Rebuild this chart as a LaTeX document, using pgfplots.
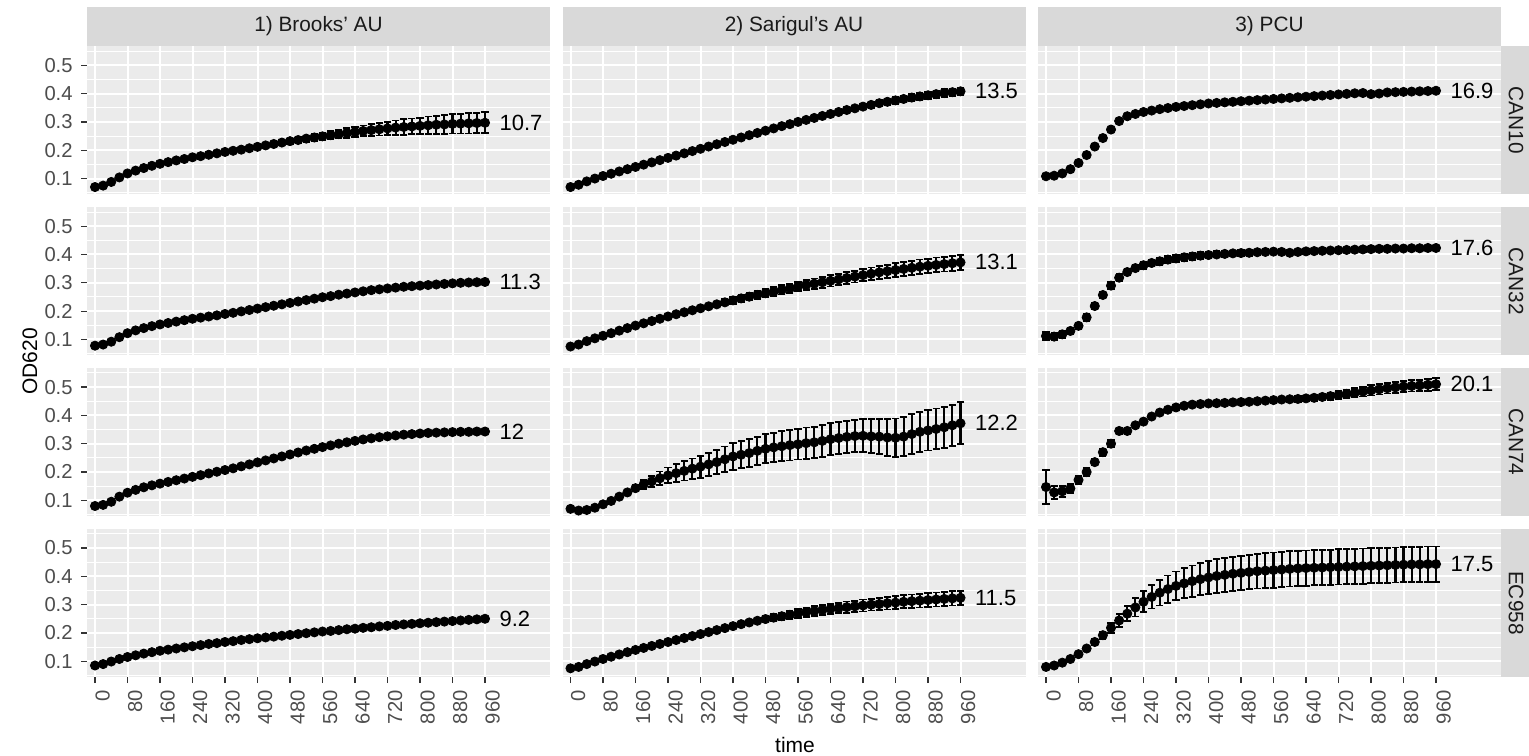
\documentclass[border=0pt]{standalone}
\usepackage{pgfplots}
\pgfplotsset{compat=1.18}
\usepackage{pgfplotstable}
\usepackage{fontspec}
\setmainfont{Liberation Sans}
\definecolor{ggpanel}{HTML}{EBEBEB}
\definecolor{ggstrip}{HTML}{D9D9D9}
\definecolor{ggstriptext}{HTML}{1A1A1A}
\definecolor{ggtext}{HTML}{4D4D4D}
\definecolor{ggtick}{HTML}{333333}
\newcommand\ticksize{\fontsize{10.1}{12}\selectfont}
\newcommand\stripsize{\fontsize{10.4}{12.5}\selectfont}
\newcommand\bigsize{\fontsize{11}{13.2}\selectfont}
\newcommand\titlesize{\fontsize{10.5}{12.6}\selectfont}

% Brooks' AU / CAN10
\pgfplotstableread{
t y e
0 0.070 0.002
20 0.075 0.002
40 0.088 0.002
60 0.104 0.003
80 0.118 0.003
100 0.128 0.003
120 0.137 0.003
140 0.145 0.003
160 0.152 0.004
180 0.158 0.004
200 0.164 0.004
220 0.169 0.004
240 0.175 0.005
260 0.179 0.005
280 0.184 0.005
300 0.189 0.005
320 0.194 0.006
340 0.198 0.006
360 0.202 0.006
380 0.207 0.007
400 0.212 0.007
420 0.217 0.008
440 0.222 0.008
460 0.227 0.009
480 0.232 0.009
500 0.236 0.010
520 0.241 0.011
540 0.245 0.012
560 0.249 0.013
580 0.253 0.014
600 0.257 0.015
620 0.261 0.017
640 0.264 0.018
660 0.268 0.019
680 0.271 0.021
700 0.274 0.022
720 0.277 0.024
740 0.280 0.025
760 0.282 0.027
780 0.284 0.028
800 0.286 0.029
820 0.288 0.031
840 0.290 0.032
860 0.291 0.033
880 0.293 0.034
900 0.294 0.035
920 0.295 0.036
940 0.296 0.036
960 0.297 0.037
}\dAa
% Sarigul's AU / CAN10
\pgfplotstableread{
t y e
0 0.070 0.002
20 0.078 0.002
40 0.090 0.002
60 0.100 0.002
80 0.109 0.002
100 0.117 0.002
120 0.125 0.002
140 0.133 0.003
160 0.141 0.003
180 0.149 0.003
200 0.157 0.003
220 0.165 0.003
240 0.173 0.003
260 0.181 0.003
280 0.189 0.004
300 0.197 0.004
320 0.205 0.004
340 0.213 0.004
360 0.221 0.004
380 0.229 0.005
400 0.237 0.005
420 0.245 0.005
440 0.253 0.006
460 0.261 0.006
480 0.269 0.006
500 0.277 0.007
520 0.285 0.007
540 0.292 0.007
560 0.300 0.008
580 0.307 0.008
600 0.314 0.008
620 0.321 0.009
640 0.328 0.009
660 0.335 0.009
680 0.342 0.010
700 0.348 0.010
720 0.354 0.010
740 0.360 0.011
760 0.366 0.011
780 0.371 0.011
800 0.376 0.012
820 0.381 0.012
840 0.386 0.012
860 0.390 0.012
880 0.394 0.013
900 0.398 0.013
920 0.402 0.013
940 0.405 0.013
960 0.408 0.013
}\dAb
% PCU / CAN10
\pgfplotstableread{
t y e
0 0.108 0.004
20 0.110 0.004
40 0.118 0.004
60 0.133 0.004
80 0.155 0.004
100 0.183 0.004
120 0.213 0.004
140 0.243 0.004
160 0.273 0.004
180 0.303 0.004
200 0.320 0.004
220 0.328 0.004
240 0.335 0.004
260 0.340 0.004
280 0.345 0.004
300 0.349 0.004
320 0.353 0.004
340 0.356 0.004
360 0.359 0.004
380 0.362 0.004
400 0.365 0.004
420 0.367 0.004
440 0.369 0.004
460 0.371 0.004
480 0.373 0.004
500 0.375 0.004
520 0.377 0.004
540 0.379 0.004
560 0.381 0.004
580 0.383 0.004
600 0.385 0.004
620 0.387 0.004
640 0.389 0.004
660 0.391 0.004
680 0.393 0.004
700 0.395 0.004
720 0.397 0.004
740 0.399 0.004
760 0.401 0.004
780 0.402 0.004
800 0.398 0.006
820 0.400 0.005
840 0.404 0.004
860 0.405 0.004
880 0.406 0.004
900 0.407 0.004
920 0.408 0.004
940 0.409 0.004
960 0.410 0.004
}\dAc
% Brooks' AU / CAN32
\pgfplotstableread{
t y e
0 0.078 0.002
20 0.082 0.002
40 0.092 0.002
60 0.108 0.002
80 0.122 0.002
100 0.132 0.002
120 0.140 0.002
140 0.147 0.002
160 0.153 0.002
180 0.158 0.002
200 0.163 0.002
220 0.168 0.002
240 0.173 0.003
260 0.177 0.003
280 0.181 0.003
300 0.185 0.003
320 0.190 0.003
340 0.194 0.003
360 0.199 0.003
380 0.204 0.003
400 0.209 0.003
420 0.214 0.003
440 0.219 0.003
460 0.224 0.004
480 0.229 0.004
500 0.234 0.004
520 0.239 0.004
540 0.244 0.004
560 0.249 0.004
580 0.253 0.004
600 0.258 0.004
620 0.262 0.004
640 0.266 0.004
660 0.270 0.005
680 0.274 0.005
700 0.277 0.005
720 0.280 0.005
740 0.283 0.005
760 0.286 0.005
780 0.288 0.005
800 0.290 0.005
820 0.292 0.005
840 0.294 0.005
860 0.296 0.005
880 0.298 0.005
900 0.300 0.005
920 0.301 0.005
940 0.302 0.005
960 0.303 0.005
}\dBa
% Sarigul's AU / CAN32
\pgfplotstableread{
t y e
0 0.075 0.002
20 0.082 0.002
40 0.094 0.002
60 0.104 0.002
80 0.113 0.003
100 0.122 0.003
120 0.131 0.003
140 0.140 0.004
160 0.149 0.004
180 0.157 0.005
200 0.165 0.005
220 0.173 0.006
240 0.181 0.006
260 0.189 0.007
280 0.196 0.008
300 0.203 0.008
320 0.210 0.009
340 0.217 0.010
360 0.224 0.010
380 0.231 0.011
400 0.238 0.012
420 0.245 0.012
440 0.251 0.013
460 0.257 0.014
480 0.263 0.014
500 0.269 0.015
520 0.275 0.016
540 0.281 0.016
560 0.287 0.017
580 0.292 0.018
600 0.297 0.018
620 0.302 0.019
640 0.307 0.020
660 0.312 0.020
680 0.317 0.021
700 0.322 0.021
720 0.327 0.022
740 0.332 0.022
760 0.337 0.023
780 0.341 0.023
800 0.345 0.024
820 0.349 0.024
840 0.353 0.025
860 0.357 0.025
880 0.360 0.025
900 0.363 0.026
920 0.366 0.026
940 0.369 0.026
960 0.372 0.026
}\dBb
% PCU / CAN32
\pgfplotstableread{
t y e
0 0.112 0.015
20 0.110 0.012
40 0.118 0.012
60 0.130 0.012
80 0.148 0.012
100 0.178 0.012
120 0.218 0.012
140 0.257 0.012
160 0.290 0.012
180 0.318 0.012
200 0.338 0.012
220 0.352 0.012
240 0.362 0.012
260 0.370 0.012
280 0.376 0.012
300 0.382 0.012
320 0.386 0.012
340 0.390 0.012
360 0.393 0.012
380 0.396 0.012
400 0.398 0.012
420 0.400 0.011
440 0.402 0.011
460 0.404 0.010
480 0.405 0.010
500 0.406 0.010
520 0.408 0.009
540 0.409 0.009
560 0.410 0.009
580 0.409 0.009
600 0.406 0.009
620 0.409 0.008
640 0.411 0.008
660 0.412 0.008
680 0.413 0.008
700 0.414 0.008
720 0.415 0.008
740 0.416 0.008
760 0.417 0.008
780 0.418 0.008
800 0.419 0.008
820 0.420 0.008
840 0.420 0.008
860 0.421 0.008
880 0.421 0.008
900 0.422 0.008
920 0.422 0.008
940 0.423 0.008
960 0.423 0.008
}\dBc
% Brooks' AU / CAN74
\pgfplotstableread{
t y e
0 0.080 0.002
20 0.084 0.002
40 0.095 0.002
60 0.113 0.002
80 0.127 0.002
100 0.137 0.002
120 0.146 0.002
140 0.153 0.002
160 0.159 0.002
180 0.165 0.002
200 0.171 0.002
220 0.177 0.002
240 0.183 0.002
260 0.189 0.002
280 0.195 0.002
300 0.201 0.002
320 0.207 0.002
340 0.213 0.002
360 0.220 0.002
380 0.227 0.002
400 0.234 0.002
420 0.241 0.002
440 0.248 0.002
460 0.255 0.003
480 0.262 0.003
500 0.269 0.003
520 0.276 0.003
540 0.282 0.003
560 0.288 0.003
580 0.294 0.003
600 0.300 0.003
620 0.305 0.003
640 0.310 0.003
660 0.315 0.003
680 0.319 0.003
700 0.323 0.003
720 0.326 0.003
740 0.329 0.003
760 0.332 0.003
780 0.334 0.003
800 0.336 0.003
820 0.338 0.003
840 0.339 0.004
860 0.340 0.004
880 0.341 0.004
900 0.342 0.004
920 0.342 0.004
940 0.343 0.004
960 0.343 0.004
}\dCa
% Sarigul's AU / CAN74
\pgfplotstableread{
t y e
0 0.070 0.002
20 0.064 0.002
40 0.066 0.002
60 0.074 0.003
80 0.086 0.003
100 0.098 0.004
120 0.113 0.005
140 0.128 0.007
160 0.143 0.010
180 0.156 0.015
200 0.167 0.020
220 0.178 0.024
240 0.188 0.028
260 0.196 0.031
280 0.204 0.034
300 0.212 0.036
320 0.219 0.039
340 0.227 0.041
360 0.235 0.043
380 0.245 0.045
400 0.255 0.047
420 0.261 0.048
440 0.267 0.049
460 0.275 0.050
480 0.282 0.051
500 0.287 0.052
520 0.291 0.053
540 0.295 0.054
560 0.298 0.054
580 0.302 0.055
600 0.305 0.055
620 0.310 0.056
640 0.316 0.056
660 0.320 0.056
680 0.324 0.057
700 0.327 0.057
720 0.328 0.058
740 0.326 0.060
760 0.325 0.062
780 0.322 0.065
800 0.321 0.068
820 0.325 0.069
840 0.334 0.070
860 0.342 0.070
880 0.347 0.071
900 0.352 0.072
920 0.358 0.072
940 0.365 0.073
960 0.372 0.074
}\dCb
% PCU / CAN74
\pgfplotstableread{
t y e
0 0.147 0.060
20 0.128 0.022
40 0.132 0.020
60 0.142 0.016
80 0.172 0.015
100 0.200 0.013
120 0.235 0.012
140 0.270 0.012
160 0.300 0.012
180 0.345 0.012
200 0.345 0.010
220 0.365 0.010
240 0.378 0.009
260 0.396 0.008
280 0.410 0.008
300 0.420 0.008
320 0.428 0.008
340 0.434 0.008
360 0.438 0.008
380 0.440 0.008
400 0.442 0.008
420 0.443 0.008
440 0.444 0.008
460 0.446 0.008
480 0.447 0.008
500 0.448 0.008
520 0.450 0.008
540 0.452 0.008
560 0.454 0.009
580 0.456 0.009
600 0.457 0.009
620 0.458 0.010
640 0.460 0.010
660 0.462 0.011
680 0.465 0.012
700 0.468 0.013
720 0.472 0.014
740 0.476 0.015
760 0.480 0.016
780 0.484 0.017
800 0.488 0.018
820 0.492 0.018
840 0.496 0.019
860 0.499 0.019
880 0.502 0.020
900 0.504 0.020
920 0.506 0.020
940 0.508 0.021
960 0.510 0.021
}\dCc
% Brooks' AU / EC958
\pgfplotstableread{
t y e
0 0.085 0.002
20 0.090 0.002
40 0.099 0.002
60 0.108 0.002
80 0.115 0.002
100 0.121 0.002
120 0.127 0.002
140 0.132 0.002
160 0.137 0.002
180 0.141 0.002
200 0.145 0.002
220 0.149 0.002
240 0.153 0.002
260 0.157 0.002
280 0.161 0.002
300 0.164 0.002
320 0.168 0.002
340 0.171 0.002
360 0.175 0.002
380 0.178 0.002
400 0.181 0.002
420 0.184 0.002
440 0.187 0.002
460 0.190 0.002
480 0.193 0.002
500 0.196 0.002
520 0.199 0.002
540 0.202 0.002
560 0.205 0.002
580 0.207 0.002
600 0.210 0.002
620 0.213 0.002
640 0.215 0.002
660 0.218 0.002
680 0.220 0.003
700 0.223 0.003
720 0.225 0.003
740 0.228 0.003
760 0.230 0.003
780 0.232 0.003
800 0.234 0.003
820 0.236 0.003
840 0.238 0.003
860 0.240 0.003
880 0.242 0.003
900 0.244 0.003
920 0.246 0.003
940 0.248 0.003
960 0.250 0.003
}\dDa
% Sarigul's AU / EC958
\pgfplotstableread{
t y e
0 0.075 0.002
20 0.080 0.002
40 0.090 0.002
60 0.099 0.002
80 0.108 0.002
100 0.116 0.002
120 0.124 0.002
140 0.132 0.002
160 0.140 0.003
180 0.147 0.003
200 0.154 0.003
220 0.161 0.003
240 0.168 0.004
260 0.175 0.004
280 0.182 0.004
300 0.189 0.005
320 0.196 0.005
340 0.203 0.006
360 0.210 0.006
380 0.217 0.007
400 0.224 0.008
420 0.231 0.008
440 0.237 0.009
460 0.243 0.010
480 0.249 0.011
500 0.254 0.012
520 0.259 0.013
540 0.264 0.014
560 0.269 0.015
580 0.273 0.016
600 0.277 0.017
620 0.281 0.018
640 0.285 0.018
660 0.288 0.019
680 0.291 0.020
700 0.294 0.020
720 0.297 0.021
740 0.300 0.021
760 0.302 0.022
780 0.305 0.022
800 0.307 0.023
820 0.310 0.023
840 0.312 0.024
860 0.314 0.024
880 0.316 0.024
900 0.318 0.025
920 0.320 0.025
940 0.322 0.025
960 0.324 0.025
}\dDb
% PCU / EC958
\pgfplotstableread{
t y e
0 0.080 0.003
20 0.085 0.003
40 0.095 0.004
60 0.108 0.005
80 0.125 0.006
100 0.145 0.008
120 0.168 0.010
140 0.192 0.013
160 0.218 0.017
180 0.244 0.022
200 0.268 0.027
220 0.290 0.032
240 0.310 0.037
260 0.327 0.041
280 0.342 0.045
300 0.355 0.048
320 0.366 0.051
340 0.375 0.053
360 0.383 0.055
380 0.390 0.057
400 0.396 0.058
420 0.401 0.059
440 0.405 0.060
460 0.409 0.060
480 0.412 0.061
500 0.415 0.061
520 0.418 0.061
540 0.420 0.062
560 0.422 0.062
580 0.424 0.062
600 0.426 0.062
620 0.428 0.062
640 0.429 0.062
660 0.430 0.062
680 0.431 0.062
700 0.432 0.062
720 0.433 0.062
740 0.434 0.062
760 0.435 0.062
780 0.436 0.062
800 0.437 0.062
820 0.438 0.062
840 0.439 0.062
860 0.440 0.062
880 0.441 0.062
900 0.442 0.062
920 0.442 0.062
940 0.443 0.062
960 0.443 0.062
}\dDc

\pgfplotsset{
  ggp/.style={
    scale only axis, width=231.5pt, height=74.2pt, anchor=north west,
    xmin=-19.7, xmax=1120, ymin=0.044, ymax=0.568,
    xtick={0,80,...,960}, ytick={0.1,0.2,0.3,0.4,0.5},
    minor ytick={0.05,0.15,0.25,0.35,0.45,0.55},
    grid=both,
    major grid style={white, line width=1pt},
    minor grid style={white, line width=0.5pt},
    axis background/.style={fill=ggpanel},
    axis line style={draw=none},
    tick align=outside, major tick length=3pt, minor tick length=0pt,
    tick style={color=ggtick, line width=0.6pt},
    xtick pos=left, ytick pos=left,
    ticklabel style={font=\ticksize, text=ggtext},
    yticklabel style={anchor=east, inner sep=0pt},
    xticklabel style={rotate=90, anchor=north east, inner sep=0pt},
    yticklabel shift=4pt, xticklabel shift=3.5pt,
    /pgf/number format/assume math mode=true,
    /pgf/number format/fixed, /pgf/number format/precision=1,
    clip=false,
  },
  noxl/.style={xticklabels={}, xtick style={draw=none}},
  noyl/.style={yticklabels={}, ytick style={draw=none}},
  bars/.style={black, line width=1.1pt, mark=none, -,
    quiver={u=0, v=2*\thisrow{e}}},
  caps/.style={only marks, mark=-, mark size=1.8pt,
    mark options={draw=black, line width=0.9pt, solid}},
  pts/.style={only marks, mark=*, black, mark size=2.3pt,
    mark options={fill=black, draw=black}},
}
\newcommand\series[1]{%
  \addplot[bars] table[x=t, y expr=\thisrow{y}-\thisrow{e}] {#1};
  \addplot[caps] table[x=t, y expr=\thisrow{y}+\thisrow{e}] {#1};
  \addplot[caps] table[x=t, y expr=\thisrow{y}-\thisrow{e}] {#1};
  \addplot[pts] table[x=t, y=y] {#1};
}
\tikzset{lab/.style={anchor=west, inner sep=0pt, font=\bigsize, text=black}}

\begin{document}
\begin{tikzpicture}
\path[use as bounding box] (0,0) rectangle (764.5pt,-377.5pt);
% top strips
\fill[ggstrip] (43.5pt,-3.5pt) rectangle (275pt,-23pt);
\fill[ggstrip] (281.25pt,-3.5pt) rectangle (512.75pt,-23pt);
\fill[ggstrip] (519pt,-3.5pt) rectangle (750.5pt,-23pt);
\node[font=\stripsize, text=ggstriptext] at (159.25pt,-13.25pt) {1) Brooks' AU};
\node[font=\stripsize, text=ggstriptext] at (397pt,-13.25pt) {2) Sarigul's AU};
\node[font=\stripsize, text=ggstriptext] at (634.75pt,-13.25pt) {3) PCU};
% right strips
\fill[ggstrip] (750.5pt,-23pt) rectangle (764.5pt,-97.2pt);
\fill[ggstrip] (750.5pt,-103.45pt) rectangle (764.5pt,-177.65pt);
\fill[ggstrip] (750.5pt,-183.9pt) rectangle (764.5pt,-258.1pt);
\fill[ggstrip] (750.5pt,-264.35pt) rectangle (764.5pt,-338.55pt);
\node[font=\stripsize, text=ggstriptext, rotate=-90] at (758pt,-60.1pt) {CAN10};
\node[font=\stripsize, text=ggstriptext, rotate=-90] at (758pt,-140.55pt) {CAN32};
\node[font=\stripsize, text=ggstriptext, rotate=-90] at (758pt,-221pt) {CAN74};
\node[font=\stripsize, text=ggstriptext, rotate=-90] at (758pt,-301.45pt) {EC958};

% Row 1: CAN10
\begin{axis}[ggp, noxl, at={(43.5pt,-23pt)}]
\series{\dAa}
\node[lab] at (axis cs:995,0.297) {10.7};
\end{axis}
\begin{axis}[ggp, noxl, noyl, at={(281.25pt,-23pt)}]
\series{\dAb}
\node[lab] at (axis cs:995,0.408) {13.5};
\end{axis}
\begin{axis}[ggp, noxl, noyl, at={(519pt,-23pt)}]
\series{\dAc}
\node[lab] at (axis cs:995,0.410) {16.9};
\end{axis}
% Row 2: CAN32
\begin{axis}[ggp, noxl, at={(43.5pt,-103.45pt)}]
\series{\dBa}
\node[lab] at (axis cs:995,0.303) {11.3};
\end{axis}
\begin{axis}[ggp, noxl, noyl, at={(281.25pt,-103.45pt)}]
\series{\dBb}
\node[lab] at (axis cs:995,0.372) {13.1};
\end{axis}
\begin{axis}[ggp, noxl, noyl, at={(519pt,-103.45pt)}]
\series{\dBc}
\node[lab] at (axis cs:995,0.423) {17.6};
\end{axis}
% Row 3: CAN74
\begin{axis}[ggp, noxl, at={(43.5pt,-183.9pt)}]
\series{\dCa}
\node[lab] at (axis cs:995,0.343) {12};
\end{axis}
\begin{axis}[ggp, noxl, noyl, at={(281.25pt,-183.9pt)}]
\series{\dCb}
\node[lab] at (axis cs:995,0.372) {12.2};
\end{axis}
\begin{axis}[ggp, noxl, noyl, at={(519pt,-183.9pt)}]
\series{\dCc}
\node[lab] at (axis cs:995,0.510) {20.1};
\end{axis}
% Row 4: EC958
\begin{axis}[ggp, at={(43.5pt,-264.35pt)}]
\series{\dDa}
\node[lab] at (axis cs:995,0.250) {9.2};
\end{axis}
\begin{axis}[ggp, noyl, at={(281.25pt,-264.35pt)}]
\series{\dDb}
\node[lab] at (axis cs:995,0.324) {11.5};
\end{axis}
\begin{axis}[ggp, noyl, at={(519pt,-264.35pt)}]
\series{\dDc}
\node[lab] at (axis cs:995,0.443) {17.5};
\end{axis}

% axis titles
\node[font=\titlesize, text=black] at (397.5pt,-372.25pt) {time};
\node[font=\titlesize, text=black, rotate=90] at (15pt,-180.75pt) {OD620};
\end{tikzpicture}
\end{document}
